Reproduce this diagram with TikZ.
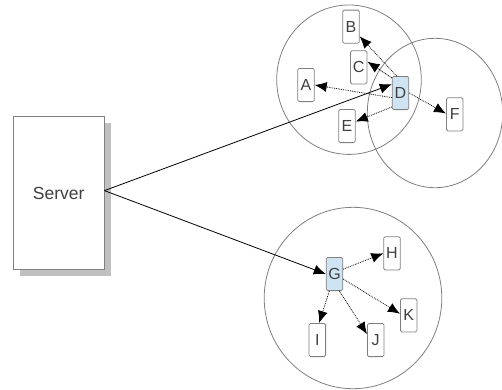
\documentclass[tikz,border=0pt]{standalone}
\usepackage{fontspec}
\setmainfont{Liberation Sans}
\usetikzlibrary{arrows.meta}
\definecolor{txt}{HTML}{404040}
\definecolor{bord}{HTML}{808080}
\definecolor{hub}{HTML}{CFE4F3}
\definecolor{shadowgray}{HTML}{C0C0C0}
\tikzset{
  x=1pt,y=-1pt,
  cell/.style={draw=bord,line width=0.8pt,fill=none},
  peer/.style={draw=bord,line width=0.8pt,fill=white,rounded corners=1.5pt,minimum width=16.6pt,minimum height=33.2pt,inner sep=0pt,text=txt,font=\fontsize{16}{16}\selectfont},
  hubnode/.style={peer,fill=hub},
  servernode/.style={draw=bord,line width=0.8pt,fill=white,minimum width=90.7pt,minimum height=152.6pt,inner sep=0pt,text=txt,font=\fontsize{17.5}{17.5}\selectfont},
  radio/.style={densely dotted,line width=0.8pt,-{Latex[length=12pt,width=10pt]}},
  wire/.style={line width=0.8pt,-{Latex[length=12pt,width=10pt]}}
}
\begin{document}
\begin{tikzpicture}
\useasboundingbox (0,0) rectangle (502,389);
\fill[white] (0,0) rectangle (502,389);
\draw[cell] (349,79.7) ellipse [x radius=72.3,y radius=74.7];
\draw[cell] (435,113) ellipse [x radius=67.7,y radius=74.7];
\draw[cell] (353,298) ellipse [x radius=88.8,y radius=90.7];
\fill[shadowgray] (19.8,123.2) rectangle (110.5,275.8);
\node[servernode] (S) at (58.7,193) {Server};
\node[peer] (A) at (306,85) {A};
\node[peer] (B) at (351,26.7) {B};
\node[peer] (C) at (358.7,67.3) {C};
\node[hubnode] (D) at (400.5,93) {D};
\node[peer] (E) at (347,126) {E};
\node[peer] (F) at (454.7,114.3) {F};
\node[hubnode] (G) at (334.5,274) {G};
\node[peer] (H) at (392,253.3) {H};
\node[peer] (I) at (317.3,340) {I};
\node[peer] (J) at (375.7,340) {J};
\node[peer] (K) at (408.7,315.3) {K};
\draw[wire] (S.3) -- (D.135);
\draw[wire] (S.3) -- (G.west);
\draw[radio] (D.103) -- (B.-48);
\draw[radio] (D.120) -- (C.33);
\draw[radio] (D.208) -- (A.east);
\draw[radio] (D.238) -- (E.27);
\draw[radio] (D.east) -- (F.175);
\draw[radio] (G.29) -- (H.west);
\draw[radio] (G.-30) -- (K.170);
\draw[radio] (G.-74) -- (J.146);
\draw[radio] (G.253) -- (I.84);
\end{tikzpicture}
\end{document}
